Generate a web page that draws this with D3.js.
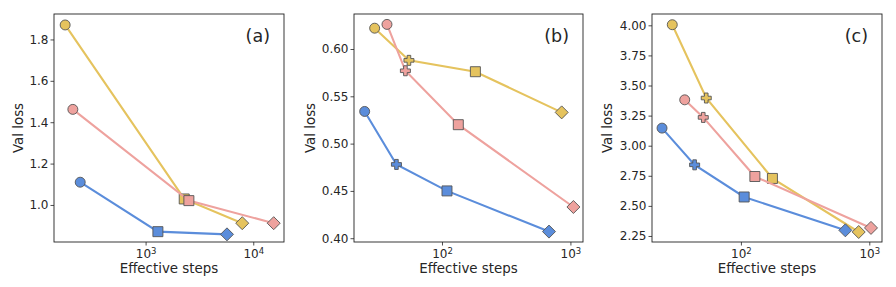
<!DOCTYPE html>
<html>
<head>
<meta charset="utf-8">
<script src="https://cdn.jsdelivr.net/npm/d3@7"></script>
<style>
  body { margin: 0; background: #fff; }
  text { font-family: "DejaVu Sans", sans-serif; fill: #262626; }
</style>
</head>
<body>
<div id="chart"></div>
<script>
// series order: yellow, pink, blue
const colors = ["#E5C35E", "#EEA29E", "#5B8DDB"];

// panel (a): circle, square, diamond
const stepsA = [[179, 2285, 7900], [211, 2524, 15480], [247, 1301, 5700]];
const lossA = [[1.87, 1.029, 0.912], [1.462, 1.021, 0.912], [1.11, 0.871, 0.858]];
const shapesA = ["circle", "square", "diamond"];

// panel (b): circle, plus, square, diamond
const stepsB = [[29.9, 55.3, 182, 855], [37.3, 51.9, 134, 1055], [25.0, 44.2, 109.4, 681]];
const lossB = [[0.622, 0.588, 0.576, 0.533], [0.626, 0.577, 0.520, 0.433], [0.534, 0.478, 0.450, 0.407]];

// panel (c)
const stepsC = [[29.2, 53.7, 176, 827], [36.5, 50.9, 128.5, 1031], [24.3, 43.6, 106, 651]];
const lossC = [[4.005, 3.396, 2.728, 2.283], [3.381, 3.235, 2.744, 2.317], [3.146, 2.841, 2.574, 2.297]];
const shapesBC = ["circle", "plus", "square", "diamond"];

const yTicksA = [1.0, 1.2, 1.4, 1.6, 1.8];
const yTicksB = [0.40, 0.45, 0.50, 0.55, 0.60];
const yTicksC = [2.25, 2.50, 2.75, 3.00, 3.25, 3.50, 3.75, 4.00];
const xTicksA = [1e3, 1e4];
const xTicksBC = [1e2, 1e3];

const W = 896, H = 287;
const svg = d3.select("#chart").append("svg")
  .attr("width", W).attr("height", H);

const plotTop = 14, plotBottom = 242;

const panels = [
  { label: "(a)", left: 54, right: 284, xDom: [141, 19300], yDom: [0.821, 1.923],
    steps: stepsA, loss: lossA, shapes: shapesA, yTicks: yTicksA, xTicks: xTicksA, fmt: d3.format(".1f"), ylabX: 18 },
  { label: "(b)", left: 354, right: 583, xDom: [20.65, 1253], yDom: [0.396, 0.637],
    steps: stepsB, loss: lossB, shapes: shapesBC, yTicks: yTicksB, xTicks: xTicksBC, fmt: d3.format(".2f"), ylabX: 310 },
  { label: "(c)", left: 652, right: 882, xDom: [20.3, 1256], yDom: [2.20, 4.094],
    steps: stepsC, loss: lossC, shapes: shapesBC, yTicks: yTicksC, xTicks: xTicksBC, fmt: d3.format(".2f"), ylabX: 607 }
];

function markerPath(shape) {
  if (shape === "circle") return d3.symbol(d3.symbolCircle, 78)();
  if (shape === "square") return "M-5,-5H5V5H-5Z";
  if (shape === "diamond") return "M0,-6.5L6.5,0L0,6.5L-6.5,0Z";
  // thick plus (matplotlib 'P')
  const a = 1.8, b = 5;
  return `M${-a},${-b}H${a}V${-a}H${b}V${a}H${a}V${b}H${-a}V${a}H${-b}V${-a}H${-a}Z`;
}

panels.forEach(p => {
  const x = d3.scaleLog().domain(p.xDom).range([p.left, p.right]);
  const y = d3.scaleLinear().domain(p.yDom).range([plotBottom, plotTop]);
  const g = svg.append("g");

  // axes
  const xAxis = d3.axisBottom(x).tickValues(p.xTicks).tickSize(3.5).tickPadding(2).tickFormat("");
  const gx = g.append("g").attr("transform", `translate(0,${plotBottom})`).call(xAxis);
  gx.select(".domain").remove();
  gx.selectAll(".tick line").attr("stroke", "#222").attr("stroke-width", 0.8);
  gx.selectAll(".tick").append("text")
    .attr("y", 16).attr("text-anchor", "middle")
    .style("font-size", "12px")
    .each(function(d) {
      const t = d3.select(this);
      t.append("tspan").text("10");
      t.append("tspan").attr("dy", -4.5).style("font-size", "8.5px").text(Math.round(Math.log10(d)));
    });

  const yAxis = d3.axisLeft(y).tickValues(p.yTicks).tickSize(3.5).tickPadding(2).tickFormat(p.fmt);
  const gy = g.append("g").attr("transform", `translate(${p.left},0)`).call(yAxis);
  gy.select(".domain").remove();
  gy.selectAll(".tick line").attr("stroke", "#222").attr("stroke-width", 0.8);
  gy.selectAll(".tick text").attr("fill", "#262626").style("font-size", "12px")
    .style("font-family", "DejaVu Sans");

  // frame
  g.append("rect")
    .attr("x", p.left).attr("y", plotTop)
    .attr("width", p.right - p.left).attr("height", plotBottom - plotTop)
    .attr("fill", "none").attr("stroke", "#222").attr("stroke-width", 0.9);

  // series
  p.steps.forEach((s, i) => {
    const pts = s.map((v, j) => [v, p.loss[i][j], p.shapes[j]]);
    g.append("path")
      .datum(pts)
      .attr("fill", "none")
      .attr("stroke", colors[i])
      .attr("stroke-width", 2.1)
      .attr("d", d3.line().x(d => x(d[0])).y(d => y(d[1])));
    g.selectAll(null).data(pts).join("path")
      .attr("transform", d => `translate(${x(d[0])},${y(d[1])})`)
      .attr("d", d => markerPath(d[2]))
      .attr("fill", colors[i])
      .attr("stroke", "#555")
      .attr("stroke-width", 0.9);
  });

  // labels
  g.append("text")
    .attr("x", p.right - 14).attr("y", 42)
    .attr("text-anchor", "end")
    .style("font-size", "17.5px")
    .text(p.label);

  g.append("text")
    .attr("x", (p.left + p.right) / 2).attr("y", 273)
    .attr("text-anchor", "middle")
    .style("font-size", "13.4px")
    .text("Effective steps");

  g.append("text")
    .attr("transform", `translate(${p.ylabX + 4.5},${(plotTop + plotBottom) / 2}) rotate(-90)`)
    .attr("text-anchor", "middle")
    .style("font-size", "13.4px")
    .text("Val loss");
});
</script>
</body>
</html>
